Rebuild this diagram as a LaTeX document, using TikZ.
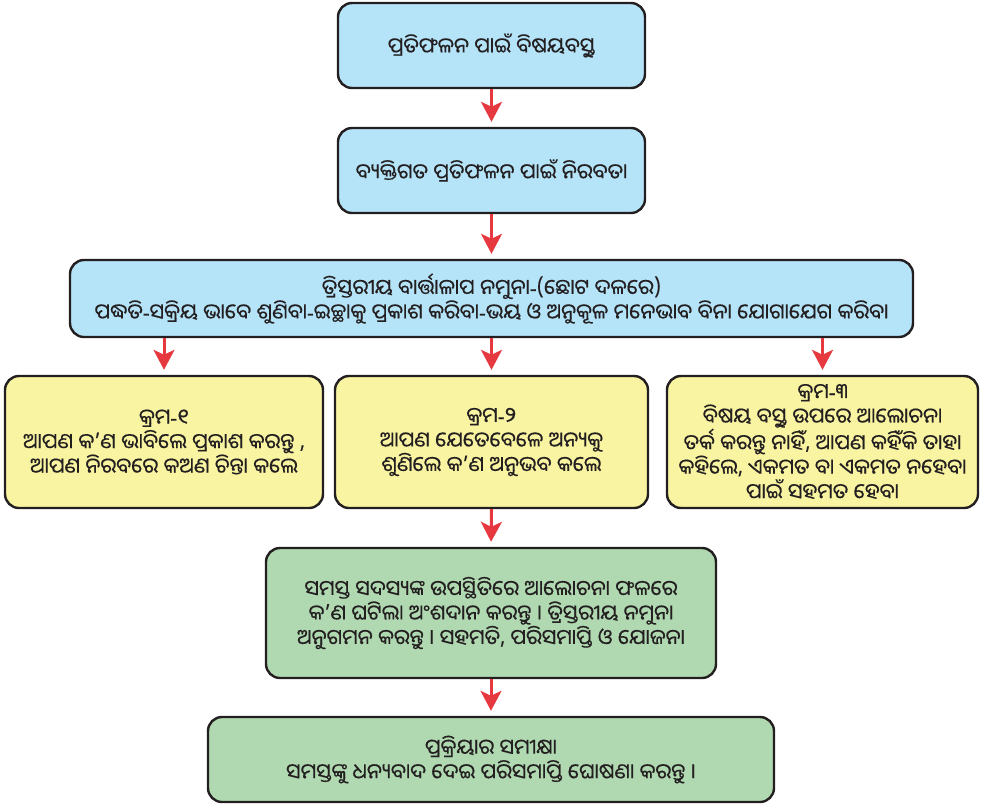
\documentclass[tikz,border=0pt]{standalone}
\usepackage{fontspec}
\usepackage{trimclip}
\newfontfamily\odia[Script=Oriya,FakeBold=0.4]{Noto Sans Oriya UI}
\newfontfamily\latinf[FakeBold=0.4]{Noto Sans}
\newcommand\hy{{\latinf -}}
\newcommand\zj{^^^^200d}
\newlength\ulw
\newsavebox\ubox
\newcommand\fixu[1]{\sbox\ubox{#1}\ulw=\wd\ubox
  \raisebox{0pt}[\ht\ubox][\dp\ubox]{\clipbox{0pt -15pt 0pt -15pt}{#1}}%
  \rlap{\kern-\ulw\smash{\clipbox{\ulw{} -15pt -30pt -15pt}{#1}}}}
\usetikzlibrary{arrows.meta}
\definecolor{bluefill}{HTML}{B5E3F8}
\definecolor{yellowfill}{HTML}{F8F4A2}
\definecolor{greenfill}{HTML}{B0D9B1}
\definecolor{edgecol}{HTML}{231F20}
\definecolor{arrowred}{HTML}{E5383F}
\tikzset{
  box/.style={draw=edgecol, line width=2.4pt, rounded corners=14pt, align=center,
    inner sep=0pt, text=edgecol, font=\odia\fontsize{21}{24.5}\selectfont},
  bluebox/.style={box, fill=bluefill},
  yellowbox/.style={box, fill=yellowfill},
  greenbox/.style={box, fill=greenfill},
  arr/.style={draw=arrowred, line width=3pt, shorten >=5pt,
    -{Stealth[length=20pt,width=21pt,inset=5pt]}}
}
\begin{document}
\begin{tikzpicture}[x=1pt,y=-1pt]
\useasboundingbox (0,0) rectangle (986,807);
\node[bluebox, minimum width=307pt, minimum height=85pt] (b1) at (491.5,45.5)
  {ପ୍ରତିଫଳନ ପାଇଁ ବିଷୟବ\fixu{ସ୍ତୁ}};
\node[bluebox, minimum width=307pt, minimum height=85pt] (b2) at (491.5,170.5)
  {ବ୍ୟକ୍ତିଗତ ପ୍ରତିଫଳନ ପାଇଁ ନିରବତା};
\node[bluebox, minimum width=843pt, minimum height=77pt] (b3) at (491.5,298.5)
  {ତ୍ରିସ୍ତରୀୟ ବାର୍ତ୍ତାଳାପ ନମୁନା\hy(ଛୋଟ ଦଳରେ)\\
   ପଦ୍ଧତି\hy ସକ୍ରିୟ ଭାବେ ଶୁଣିବା\hy ଇଚ୍ଛାକୁ ପ୍ରକାଶ କରିବା\hy ଭୟ ଓ ଅନୁକୂଳ ମନେଭାବ ବିନା ଯୋଗାଯେଗ କରିବା};
\node[yellowbox, minimum width=318pt, minimum height=132pt] (y1) at (164,442)
  {କ୍ରମ\hy ୧\\ ଆପଣ କ’ଣ ଭାବିଲେ ପ୍ରକାଶ କର\fixu{ନ୍ତୁ} ,\\ ଆପଣ ନିରବରେ କଅଣ ଚିନ୍ତା କଲେ};
\node[yellowbox, minimum width=313pt, minimum height=132pt] (y2) at (491.5,442)
  {କ୍ରମ\hy ୨\\ ଆପଣ ଯେତେବେଳେ ଅନ୍ୟକୁ\\ ଶୁଣିଲେ କ’ଣ ଅନୁଭବ କଲେ};
\node[yellowbox, minimum width=311pt, minimum height=132pt] (y3) at (822.5,442)
  {କ୍ରମ\hy ୩\\ ବିଷୟ ବ\fixu{ସ୍ତୁ} ଉପରେ ଆଲୋଚନା\\ ତର୍କ କର\fixu{ନ୍ତୁ} ନାହି\zj ଁ, ଆପଣ କହି\zj ଁକି ତାହା\\ କହିଲେ, ଏକମତ ବା ଏକମତ ନହେବା\\ ପାଇଁ ସହମତ ହେବା};
\node[greenbox, minimum width=450pt, minimum height=130pt] (g1) at (491,613)
  {ସମସ୍ତ ସଦସ୍ୟଙ୍କ ଉପସ୍ଥିତିରେ ଆଲୋଚନା ଫଳରେ\\ କ’ଣ ଘଟିଲା ଅଂଶଦାନ କର\fixu{ନ୍ତୁ} । ତ୍ରିସ୍ତରୀୟ ନମୁନା\\ ଅନୁଗମନ କର\fixu{ନ୍ତୁ} । ସହମତି, ପରିସମାପ୍ତି ଓ ଯୋଜନା};
\node[greenbox, minimum width=566pt, minimum height=85pt] (g2) at (491,759.5)
  {ପ୍ରକ୍ରିୟାର ସମୀକ୍ଷା\\ ସମସ୍ତଙ୍କୁ ଧନ୍ୟବାଦ ଦେଇ ପରିସମାପ୍ତି ଘୋଷଣା କର\fixu{ନ୍ତୁ} ।};
\draw[arr] (b1.south) -- (b2.north);
\draw[arr] (b2.south) -- (b3.north);
\draw[arr] (b3.south -| y1) -- (y1.north);
\draw[arr] (b3.south -| y2) -- (y2.north);
\draw[arr] (b3.south -| y3) -- (y3.north);
\draw[arr] (y2.south) -- (g1.north);
\draw[arr] (g1.south) -- (g2.north);
\end{tikzpicture}
\end{document}
